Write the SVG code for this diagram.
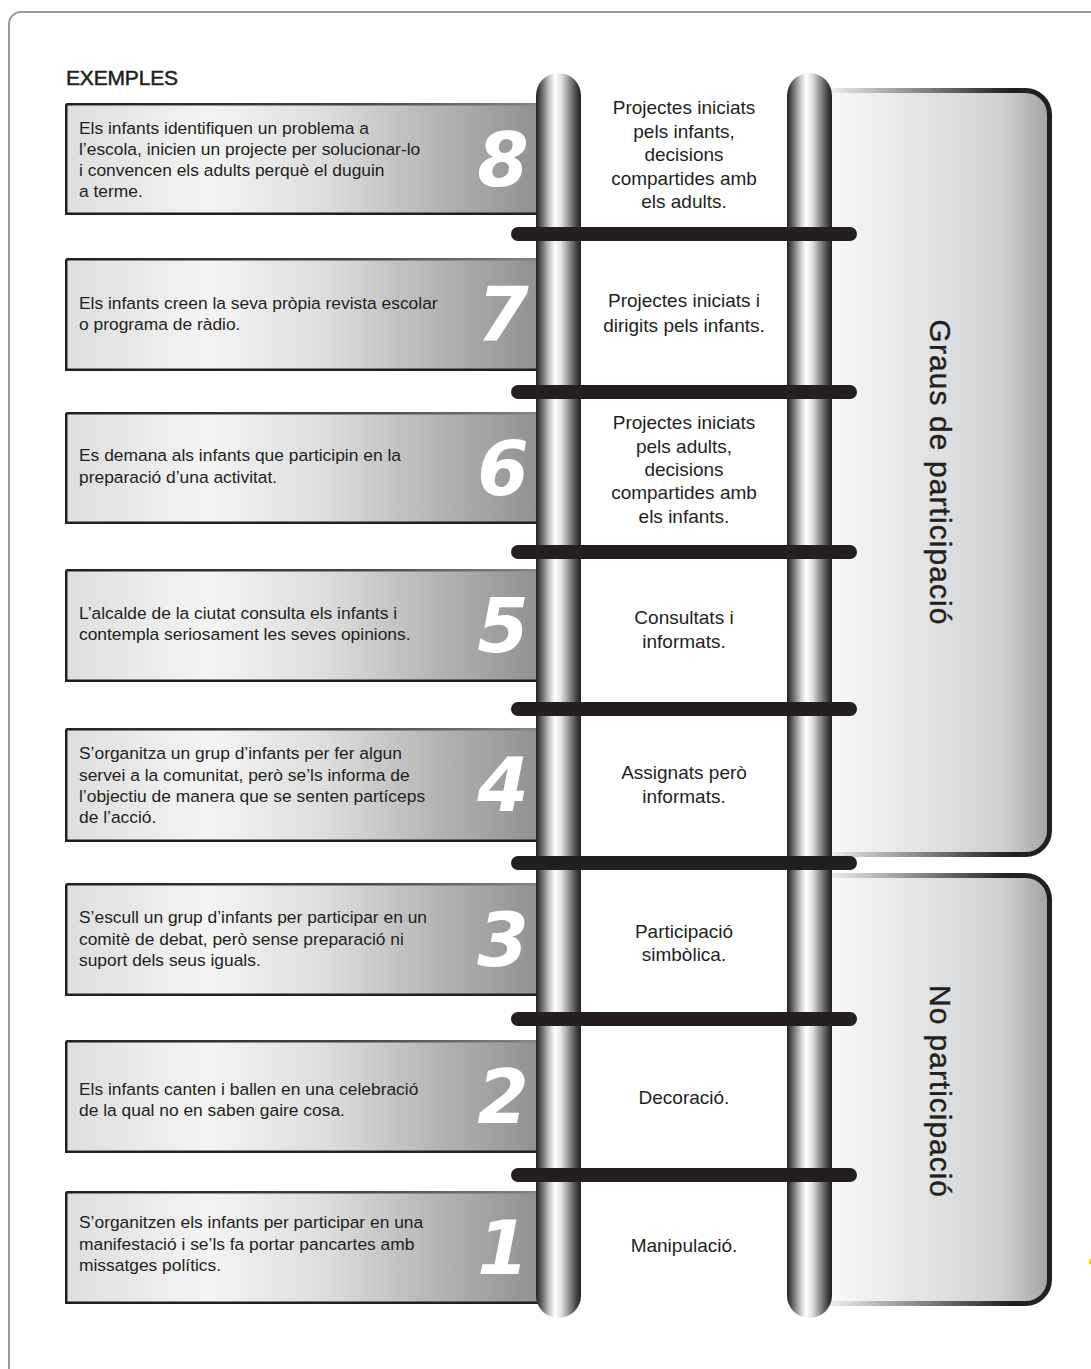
<svg xmlns="http://www.w3.org/2000/svg" width="1091" height="1369" viewBox="0 0 1091 1369">
<defs>
<style>
text{font-family:"Liberation Sans",Arial,sans-serif;fill:#231f20}
.ex{font-size:17.4px}
.lvl{font-size:19px;text-anchor:middle}
.digit{font-family:"DejaVu Sans",sans-serif;font-size:74px;font-weight:bold;font-style:italic;fill:#ffffff;text-anchor:middle}
.vt{font-size:30px;text-anchor:middle;stroke:#231f20;stroke-width:0.4}
.title{font-size:21px;stroke:#231f20;stroke-width:0.5}
.boxFill{fill:url(#boxGrad)}
.edgeDark{fill:none;stroke:#231f20;stroke-width:2.5}
.edgeTop{fill:none;stroke:url(#topEdgeGrad);stroke-width:2.5}
.panelFill{fill:url(#panelGrad)}
.panelEdge{fill:none;stroke:url(#panelEdgeGrad);stroke-width:5}
.rail{fill:url(#railGrad)}
.rung{fill:#231f20}
</style>
<linearGradient id="boxGrad" gradientUnits="userSpaceOnUse" x1="65" y1="0" x2="545" y2="0">
<stop offset="0" stop-color="#dedede"/>
<stop offset="0.3" stop-color="#f4f4f4"/>
<stop offset="0.55" stop-color="#dcdcdc"/>
<stop offset="0.8" stop-color="#b0b0b0"/>
<stop offset="1" stop-color="#8e8e8e"/>
</linearGradient>
<linearGradient id="topEdgeGrad" gradientUnits="userSpaceOnUse" x1="65" y1="0" x2="545" y2="0">
<stop offset="0" stop-color="#231f20"/>
<stop offset="0.6" stop-color="#444"/>
<stop offset="1" stop-color="#888"/>
</linearGradient>
<linearGradient id="panelGrad" gradientUnits="userSpaceOnUse" x1="800" y1="0" x2="1052" y2="0">
<stop offset="0" stop-color="#ffffff"/>
<stop offset="0.3" stop-color="#eeeeef"/>
<stop offset="0.55" stop-color="#dfe0e1"/>
<stop offset="0.8" stop-color="#cfd0d2"/>
<stop offset="1" stop-color="#a0a1a3"/>
</linearGradient>
<linearGradient id="panelEdgeGrad" gradientUnits="userSpaceOnUse" x1="833" y1="0" x2="1010" y2="0">
<stop offset="0" stop-color="#eaeaea"/>
<stop offset="1" stop-color="#231f20"/>
</linearGradient>
<linearGradient id="railGrad" x1="0" y1="0" x2="1" y2="0">
<stop offset="0" stop-color="#231f20"/>
<stop offset="0.1" stop-color="#555"/>
<stop offset="0.3" stop-color="#c8c8c8"/>
<stop offset="0.42" stop-color="#ffffff"/>
<stop offset="0.56" stop-color="#e2e2e2"/>
<stop offset="0.75" stop-color="#8a8a8a"/>
<stop offset="0.92" stop-color="#3a3a3a"/>
<stop offset="1" stop-color="#231f20"/>
</linearGradient>
</defs>

<rect x="0" y="0" width="1091" height="1369" fill="#ffffff"/>
<rect id="frame" x="9" y="12" width="1200" height="1420" rx="12" fill="none" stroke="#9a9a9a" stroke-width="2"/>

<g id="title"><text class="title" x="66" y="85" textLength="112">EXEMPLES</text></g>

<!-- panels -->
<g id="panel-graus">
<path class="panelFill" d="M800 90.5 H1025.5 A24 24 0 0 1 1049.5 114.5 V830.5 A24 24 0 0 1 1025.5 854.5 H800 Z"/>
<path class="panelEdge" d="M800 90.5 H1025.5 A24 24 0 0 1 1049.5 114.5 V830.5 A24 24 0 0 1 1025.5 854.5 H800"/>
<text class="vt" transform="translate(930,472) rotate(90)" textLength="305">Graus de participació</text>
</g>
<g id="panel-no">
<path class="panelFill" d="M800 875.5 H1025.5 A24 24 0 0 1 1049.5 899.5 V1279.5 A24 24 0 0 1 1025.5 1303.5 H800 Z"/>
<path class="panelEdge" d="M800 875.5 H1025.5 A24 24 0 0 1 1049.5 899.5 V1279.5 A24 24 0 0 1 1025.5 1303.5 H800"/>
<text class="vt" transform="translate(930,1091) rotate(90)" textLength="212">No participació</text>
</g>

<!-- example boxes -->
<g id="example-8">
<rect class="boxFill" x="65" y="103" width="480" height="112"/>
<path class="edgeTop" d="M545 104.25 H66.25"/>
<path class="edgeDark" d="M66.25 104.25 V213.75 H545"/>
<text class="ex" x="79" y="133.5">Els infants identifiquen un problema a</text>
<text class="ex" x="79" y="154.5">l’escola, inicien un projecte per solucionar-lo</text>
<text class="ex" x="79" y="175.5">i convencen els adults perquè el duguin</text>
<text class="ex" x="79" y="196.5">a terme.</text>
<text class="digit" x="503" y="186">8</text>
</g>
<g id="example-7">
<rect class="boxFill" x="65" y="258" width="480" height="113"/>
<path class="edgeTop" d="M545 259.25 H66.25"/>
<path class="edgeDark" d="M66.25 259.25 V369.75 H545"/>
<text class="ex" x="79" y="308.5">Els infants creen la seva pròpia revista escolar</text>
<text class="ex" x="79" y="329.5">o programa de ràdio.</text>
<text class="digit" x="503" y="340">7</text>
</g>
<g id="example-6">
<rect class="boxFill" x="65" y="412" width="480" height="112"/>
<path class="edgeTop" d="M545 413.25 H66.25"/>
<path class="edgeDark" d="M66.25 413.25 V522.75 H545"/>
<text class="ex" x="79" y="460.5">Es demana als infants que participin en la</text>
<text class="ex" x="79" y="482.5">preparació d’una activitat.</text>
<text class="digit" x="503" y="495">6</text>
</g>
<g id="example-5">
<rect class="boxFill" x="65" y="569" width="480" height="113"/>
<path class="edgeTop" d="M545 570.25 H66.25"/>
<path class="edgeDark" d="M66.25 570.25 V680.75 H545"/>
<text class="ex" x="79" y="618.5">L’alcalde de la ciutat consulta els infants i</text>
<text class="ex" x="79" y="639.5">contempla seriosament les seves opinions.</text>
<text class="digit" x="503" y="652">5</text>
</g>
<g id="example-4">
<rect class="boxFill" x="65" y="728" width="480" height="114"/>
<path class="edgeTop" d="M545 729.25 H66.25"/>
<path class="edgeDark" d="M66.25 729.25 V840.75 H545"/>
<text class="ex" x="79" y="758.5">S’organitza un grup d’infants per fer algun</text>
<text class="ex" x="79" y="780.5">servei a la comunitat, però se’ls informa de</text>
<text class="ex" x="79" y="801.5">l’objectiu de manera que se senten partíceps</text>
<text class="ex" x="79" y="822.5">de l’acció.</text>
<text class="digit" x="503" y="811">4</text>
</g>
<g id="example-3">
<rect class="boxFill" x="65" y="883" width="480" height="113"/>
<path class="edgeTop" d="M545 884.25 H66.25"/>
<path class="edgeDark" d="M66.25 884.25 V994.75 H545"/>
<text class="ex" x="79" y="922.5">S’escull un grup d’infants per participar en un</text>
<text class="ex" x="79" y="944.5">comitè de debat, però sense preparació ni</text>
<text class="ex" x="79" y="965.5">suport dels seus iguals.</text>
<text class="digit" x="503" y="966">3</text>
</g>
<g id="example-2">
<rect class="boxFill" x="65" y="1040" width="480" height="113"/>
<path class="edgeTop" d="M545 1041.25 H66.25"/>
<path class="edgeDark" d="M66.25 1041.25 V1151.75 H545"/>
<text class="ex" x="79" y="1094.5">Els infants canten i ballen en una celebració</text>
<text class="ex" x="79" y="1115.5">de la qual no en saben gaire cosa.</text>
<text class="digit" x="503" y="1123">2</text>
</g>
<g id="example-1">
<rect class="boxFill" x="65" y="1191" width="480" height="113"/>
<path class="edgeTop" d="M545 1192.25 H66.25"/>
<path class="edgeDark" d="M66.25 1192.25 V1302.75 H545"/>
<text class="ex" x="79" y="1227.5">S’organitzen els infants per participar en una</text>
<text class="ex" x="79" y="1249.5">manifestació i se’ls fa portar pancartes amb</text>
<text class="ex" x="79" y="1270.5">missatges polítics.</text>
<text class="digit" x="503" y="1274">1</text>
</g>

<!-- ladder -->
<g id="connectors">
<rect class="rail" x="536" y="73" width="45" height="1245" rx="22.5" ry="22.5"/>
<rect class="rail" x="787" y="73" width="45" height="1245" rx="22.5" ry="22.5"/>
<rect class="rung" x="511" y="227" width="346" height="14" rx="7"/>
<rect class="rung" x="511" y="385" width="346" height="14" rx="7"/>
<rect class="rung" x="511" y="545" width="346" height="14" rx="7"/>
<rect class="rung" x="511" y="702" width="346" height="14" rx="7"/>
<rect class="rung" x="511" y="856" width="346" height="14" rx="7"/>
<rect class="rung" x="511" y="1012" width="346" height="14" rx="7"/>
<rect class="rung" x="511" y="1168" width="346" height="14" rx="7"/>
</g>

<!-- level labels -->
<g id="level-8">
<text class="lvl" x="684" y="113.5">Projectes iniciats</text>
<text class="lvl" x="684" y="137.5">pels infants,</text>
<text class="lvl" x="684" y="160.5">decisions</text>
<text class="lvl" x="684" y="184.5">compartides amb</text>
<text class="lvl" x="684" y="207.5">els adults.</text>
</g>
<g id="level-7">
<text class="lvl" x="684" y="306.5">Projectes iniciats i</text>
<text class="lvl" x="684" y="331.5">dirigits pels infants.</text>
</g>
<g id="level-6">
<text class="lvl" x="684" y="428.5">Projectes iniciats</text>
<text class="lvl" x="684" y="452.5">pels adults,</text>
<text class="lvl" x="684" y="475.5">decisions</text>
<text class="lvl" x="684" y="498.5">compartides amb</text>
<text class="lvl" x="684" y="522.5">els infants.</text>
</g>
<g id="level-5">
<text class="lvl" x="684" y="623.5">Consultats i</text>
<text class="lvl" x="684" y="647.5">informats.</text>
</g>
<g id="level-4">
<text class="lvl" x="684" y="778.5">Assignats però</text>
<text class="lvl" x="684" y="802.5">informats.</text>
</g>
<g id="level-3">
<text class="lvl" x="684" y="937.5">Participació</text>
<text class="lvl" x="684" y="960.5">simbòlica.</text>
</g>
<g id="level-2">
<text class="lvl" x="684" y="1103.5">Decoració.</text>
</g>
<g id="level-1">
<text class="lvl" x="684" y="1251.5">Manipulació.</text>
</g>

<rect x="1089" y="1259" width="2" height="5" fill="#e8dc00"/>
</svg>
